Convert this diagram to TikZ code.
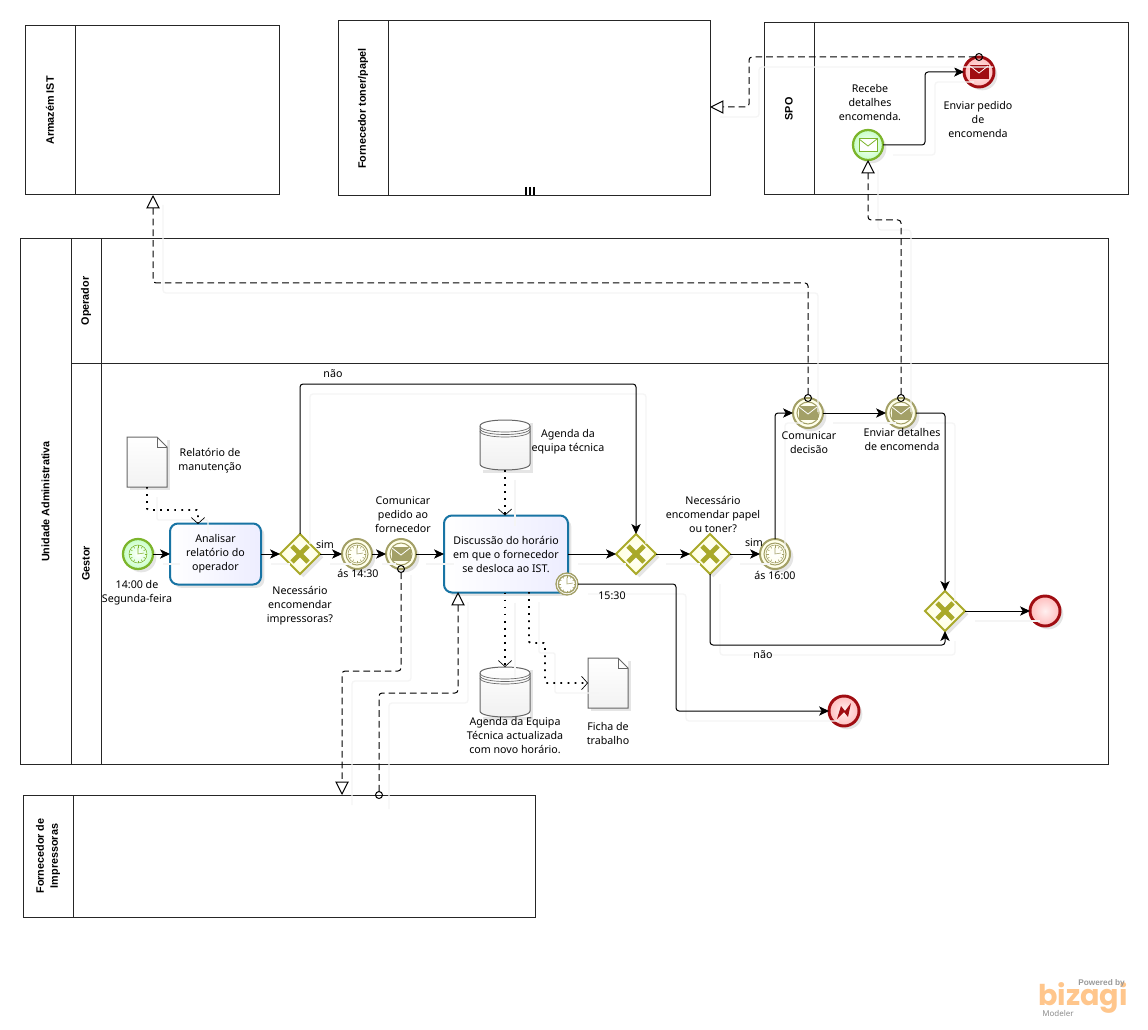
\documentclass[tikz,border=0pt]{standalone}
\usepackage{fontspec}
\setmainfont{Noto Sans}
\newfontfamily\logofont{Poppins}
\newfontfamily\titlefont{Liberation Sans}
\usepackage{xcolor}
\usepackage{tikz}
\usetikzlibrary{shapes.geometric, arrows.meta, positioning, shadows}

\definecolor{gwolive}{HTML}{A9A92A}
\definecolor{evolive}{HTML}{A3A067}
\definecolor{evgreen}{HTML}{7CB52B}
\definecolor{evred}{HTML}{A00D12}
\definecolor{taskblue}{HTML}{1874A4}

% icons, drawn inside a node by path picture
\newcommand{\clockicon}[2]{
    \begin{scope}[shift={(path picture bounding box.center)}, scale=#2, draw=#1, line width=.4pt]
        \draw (0,0) circle (9);
        \foreach \a in {0,30,...,330} \draw (\a:6.5) -- (\a:9);
        \draw (0,-6.5) -- (0,0) -- (6,-1);
    \end{scope}
}
\newcommand{\envicon}[3]{
    \begin{scope}[shift={(path picture bounding box.center)}, line width=.6pt]
        \draw[fill=#1, draw=#2] (-9,-6.5) rectangle (9,6.5);
        \draw[draw=#3] (-9,-6) -- (0,1) -- (9,-6);
    \end{scope}
}
\newcommand{\ringicon}[1]{
    \draw[evolive, line width=.8pt] (path picture bounding box.center) circle (#1);
}

\begin{document}
\begin{tikzpicture}[
        x=.75pt, y=-.75pt,
        font=\fontsize{8}{10.5}\selectfont,
        softshadow/.style={drop shadow={opacity=.2, shadow xshift=2.5pt, shadow yshift=-2.5pt}},
        poolbox/.style={draw=black!85, rectangle, fill=white, line width=.75pt, anchor=north west, inner sep=0pt, outer sep=0pt},
        pooltitle/.style={rotate=90, align=center, font=\fontsize{8.1}{10.5}\titlefont\bfseries},
        lbl/.style={align=center, inner sep=0pt},
        taskbox/.style={draw=taskblue, rectangle, rounded corners=6pt, line width=1.5pt, left color=white, right color=blue!7, softshadow, align=center, inner sep=0pt, outer sep=0pt},
        gateway/.style={draw=gwolive, diamond, aspect=1, minimum size=30pt, inner sep=0pt, outer sep=0pt, line width=1.5pt, inner color=white, outer color=yellow!14, softshadow,
            path picture={\draw[gwolive, line width=3.6pt] ([shift={(-8,-8)}]path picture bounding box.center) -- ++(16,16) ([shift={(-8,8)}]path picture bounding box.center) -- ++(16,-16);}},
        eventbase/.style={circle, minimum size=22.5pt, inner sep=0pt, outer sep=0pt, softshadow},
        startclock/.style={eventbase, draw=evgreen, line width=1.7pt, inner color=white, outer color=green!22, path picture={\clockicon{evgreen}{1}}},
        startmsg/.style={eventbase, draw=evgreen, line width=1.7pt, inner color=white, outer color=green!22, path picture={\envicon{white}{evgreen}{evgreen}}},
        timerev/.style={eventbase, draw=evolive, line width=1.5pt, inner color=white, outer color=yellow!10, path picture={\ringicon{11}\clockicon{evolive}{1}}},
        msgev/.style={eventbase, draw=evolive, line width=1.5pt, inner color=white, outer color=yellow!10, path picture={\ringicon{11}\envicon{evolive}{evolive}{white}}},
        boundaryev/.style={circle, minimum size=16.5pt, inner sep=0pt, outer sep=0pt, draw=evolive, line width=1pt, fill=white, path picture={\ringicon{8.5}\clockicon{evolive}{.68}}},
        endev/.style={eventbase, draw=evred, line width=2.2pt, inner color=red!6, outer color=red!26},
        endmsg/.style={endev, path picture={\envicon{evred}{evred}{white}}},
        enderror/.style={endev, path picture={\fill[evred, shift={(path picture bounding box.center)}] (-7,8) -- (-3,-5) -- (1,0) -- (7,-8) -- (4,6) -- (0,1) -- cycle;}},
        datastore/.style={rectangle, minimum width=37.5pt, minimum height=37.5pt, inner sep=0pt, outer sep=0pt, fill=white, softshadow},
        docnode/.style={rectangle, minimum width=30pt, minimum height=37.5pt, inner sep=0pt, outer sep=0pt, fill=white, softshadow},
        ghost/.style={preaction={draw=black!4, line width=1pt, solid, arrows=-, transform canvas={shift={(7.5pt,-7.5pt)}}}},
        flow/.style={-{Stealth[length=7.5pt,width=7pt,inset=2pt]}, line width=.75pt, rounded corners=2.25pt, ghost},
        msgflow/.style={{Circle[open,length=6pt,width=6pt]}-{Triangle[open,length=10pt,width=10pt]}, shorten <=-3pt, dash pattern=on 5pt off 3pt, line width=.75pt, rounded corners=2.25pt, ghost},
        assoc/.style={-{Straight Barb[length=4.5pt,width=10pt,line width=.5pt]}, dash pattern=on 1.3pt off 4pt, line width=1.3pt, rounded corners=1pt, ghost}
    ]
    \path[use as bounding box] (0,0) rectangle (1148,1030);

    % Armazem pool
    \node[poolbox, minimum width=190.5pt, minimum height=126.75pt] (armazem) at (25,26) {};
    \node[poolbox, minimum width=37.5pt, minimum height=126.75pt] (armazemHead) at (armazem.north west) {};
    \node[pooltitle] (armazemTitle) at (armazemHead) {Armazém IST};

    % Toner pool
    \node[poolbox, minimum width=279pt, minimum height=131.25pt] (toner) at (338,21) {};
    \node[poolbox, minimum width=37.5pt, minimum height=131.25pt] (tonerHead) at (toner.north west) {};
    \node[pooltitle] (tonerTitle) at (tonerHead) {Fornecedor toner/papel};
    \foreach \bx in {526,530,534} \draw[line width=1.1pt] (\bx,187) -- (\bx,195);

    % SPO pool
    \node[poolbox, minimum width=273pt, minimum height=129pt] (spo) at (764,23) {};
    \node[poolbox, minimum width=37.5pt, minimum height=129pt] (spoHead) at (spo.north west) {};
    \node[pooltitle] (spoTitle) at (spoHead) {SPO};

    % Unidade pool with its lanes
    \node[poolbox, minimum width=816pt, minimum height=393.75pt] (unidade) at (20,239) {};
    \node[poolbox, minimum width=38.25pt, minimum height=393.75pt] (unidadeHead) at (unidade.north west) {};
    \node[pooltitle] (unidadeTitle) at (unidadeHead) {Unidade Administrativa};
    \node[poolbox, minimum width=777.75pt, minimum height=93pt] (laneOperador) at (71,239) {};
    \node[poolbox, minimum width=22.5pt, minimum height=93pt] (operadorHead) at (laneOperador.north west) {};
    \node[pooltitle] (operadorTitle) at (operadorHead) {Operador};
    \node[poolbox, minimum width=777.75pt, minimum height=300.75pt] (laneGestor) at (71,363) {};
    \node[poolbox, minimum width=22.5pt, minimum height=300.75pt] (gestorHead) at (laneGestor.north west) {};
    \node[pooltitle] (gestorTitle) at (gestorHead) {Gestor};

    % Impressoras pool
    \node[poolbox, minimum width=384pt, minimum height=91.5pt] (impressoras) at (23,795) {};
    \node[poolbox, minimum width=37.5pt, minimum height=91.5pt] (impressorasHead) at (impressoras.north west) {};
    \node[pooltitle] (impressorasTitle) at (impressorasHead) {Fornecedor de\\Impressoras};

    % Main row
    \node[startclock] (startInicio) at (138,554) {};
    \node[taskbox, minimum width=68.25pt, minimum height=45.75pt, right=12.75pt of startInicio] (taskAnalisar) {Analisar\\relatório do\\operador};
    \node[gateway, right=14.25pt of taskAnalisar] (gwImpressoras) {};
    \node[timerev, right=16.5pt of gwImpressoras] (tmrPrimeiro) {};
    \node[msgev, right=10.5pt of tmrPrimeiro] (msgPedido) {};
    \node[taskbox, minimum width=93pt, minimum height=57.75pt, right=21pt of msgPedido] (taskDiscussao) {Discussão do horário\\em que o fornecedor\\se desloca ao IST.};
    \node[boundaryev] (tmrLimite) at (567,584) {};
    \node[gateway, right=36pt of taskDiscussao] (gwJuntar) {};
    \node[gateway, right=25.5pt of gwJuntar] (gwPapel) {};
    \node[timerev, right=22.5pt of gwPapel] (tmrSegundo) {};

    % Upper row and end
    \node[msgev] (msgDecisao) at (808,413) {};
    \node[msgev, right=47.25pt of msgDecisao] (msgDetalhes) {};
    \node[gateway] (gwFim) at (945,611) {};
    \node[endev, right=48.75pt of gwFim] (endFim) {};
    \node[enderror] (endErro) at (844,711) {};

    % SPO events
    \node[startmsg] (msgRecebe) at (868,145) {};
    \node[endmsg] (endPedido) at (979,72) {};

    % Data stores
    \node[datastore] (dsEquipa) at (505,445) {};
    \node[datastore] (dsNovo) at (505,692) {};
    \foreach \ds in {dsEquipa,dsNovo} {
        \begin{scope}[shift={(\ds.center)}]
            \draw[black!60, line width=.75pt, top color=white, bottom color=black!6]
                (-25,-19) .. controls (-25,-27) and (25,-27) .. (25,-19)
                -- (25,19) .. controls (25,27) and (-25,27) .. (-25,19) -- cycle;
            \foreach \dy in {-19,-16.5,-14}
                \draw[black!60, line width=.5pt] (-25,\dy) .. controls (-25,\dy+8) and (25,\dy+8) .. (25,\dy);
        \end{scope}
    }

    % Documents
    \node[docnode] (docRelatorio) at (147,462) {};
    \node[docnode] (docFicha) at (608,683) {};
    \foreach \doc in {docRelatorio,docFicha} {
        \fill[white] ([xshift=-7.5pt]\doc.north east) -- (\doc.north east) -- ([yshift=-7.5pt]\doc.north east) -- cycle;
        \draw[black!60, line width=.75pt, top color=white, bottom color=black!5]
            (\doc.north west) -- ([xshift=-7.5pt]\doc.north east) -- ([yshift=-7.5pt]\doc.north east) -- (\doc.south east) -- (\doc.south west) -- cycle;
        \draw[black!60, line width=.5pt] ([xshift=-7.5pt]\doc.north east) |- ([yshift=-7.5pt]\doc.north east);
    }

    % Free ends and bends
    \coordinate (armIn) at (153,195);
    \coordinate (tonerIn) at (710,107);
    \coordinate (impIn) at (342,795);
    \coordinate (impOut) at (379,795);
    \coordinate (taskIn) at (458,592);
    \coordinate (assocIn) at (198,524);
    \coordinate (assocOut) at (529,592);
    \coordinate (topNao) at (470,384);
    \coordinate (baixoNao) at (830,645);
    \coordinate (bendErro) at (676,650);
    \coordinate (bendSpo) at (925,110);
    \coordinate (bendPedido) at (370,671);
    \coordinate (bendResposta) at (420,693);
    \coordinate (bendToner) at (749,80);
    \coordinate (bendDetalhes) at (885,220);
    \coordinate (bendDecisao) at (400,283);
    \coordinate (bendDoc) at (172,510);
    \coordinate (bendFichaA) at (537,643);
    \coordinate (bendFichaB) at (545,670);

    % Sequence flows
    \draw[flow] (startInicio) -- (taskAnalisar);
    \draw[flow] (taskAnalisar) -- (gwImpressoras);
    \draw[flow] (gwImpressoras) -- (tmrPrimeiro);
    \draw[flow] (tmrPrimeiro) -- (msgPedido);
    \draw[flow] (msgPedido) -- (taskDiscussao);
    \draw[flow] (taskDiscussao) -- (gwJuntar);
    \draw[flow] (gwJuntar) -- (gwPapel);
    \draw[flow] (gwPapel) -- (tmrSegundo);
    \draw[flow] (gwImpressoras.north) |- (topNao) -| (gwJuntar.north);
    \draw[flow] (tmrLimite.east) -| (bendErro) |- (endErro.west);
    \draw[flow] (gwPapel.south) |- (baixoNao) -| (gwFim.south);
    \draw[flow] (tmrSegundo.north) |- (msgDecisao.west);
    \draw[flow] (msgDecisao) -- (msgDetalhes);
    \draw[flow] (msgDetalhes.east) -| (gwFim.north);
    \draw[flow] (gwFim) -- (endFim);
    \draw[flow] (msgRecebe.east) -| (bendSpo) |- (endPedido.west);

    % Message flows
    \draw[msgflow] (msgDecisao.north) |- (bendDecisao) -| (armIn);
    \draw[msgflow] (msgDetalhes.north) |- (bendDetalhes) -| (msgRecebe.south);
    \draw[msgflow] (endPedido.north) -| (bendToner) |- (tonerIn);
    \draw[msgflow] (msgPedido.south) |- (bendPedido) -| (impIn);
    \draw[msgflow] (impOut) |- (bendResposta) -| (taskIn);

    % Data associations
    \draw[assoc] (docRelatorio.south) |- (bendDoc) -| (assocIn);
    \draw[assoc] (dsEquipa.south) -- (dsEquipa.south |- taskDiscussao.north);
    \draw[assoc] (dsNovo.north |- taskDiscussao.south) -- (dsNovo.north);
    \draw[assoc] (assocOut) |- (bendFichaA) -| (bendFichaB) |- (docFicha.west);

    % Labels
    \node[lbl] (lblInicio) at (137,593) {14:00 de\\Segunda-feira};
    \node[lbl] (lblRelatorio) at (210,461) {Relatório de\\manutenção};
    \node[lbl] (lblImpressoras) at (300,606) {Necessário\\encomendar\\impressoras?};
    \node[lbl] (lblSimA) at (325,545) {sim};
    \node[lbl] (lblNaoA) at (333,374) {não};
    \node[lbl] (lblPrimeiro) at (358,573) {ás 14:30};
    \node[lbl] (lblPedido) at (403,515) {Comunicar\\pedido ao\\fornecedor};
    \node[lbl] (lblEquipa) at (568,442) {Agenda da\\equipa técnica};
    \node[lbl] (lblNovo) at (515,736) {Agenda da Equipa\\Técnica actualizada\\com novo horário.};
    \node[lbl] (lblFicha) at (608,733) {Ficha de\\trabalho};
    \node[lbl] (lblLimite) at (612,596) {15:30};
    \node[lbl] (lblPapel) at (713,514) {Necessário\\encomendar papel\\ou toner?};
    \node[lbl] (lblSimB) at (754,543) {sim};
    \node[lbl] (lblSegundo) at (775,575) {ás 16:00};
    \node[lbl] (lblNaoB) at (763,655) {não};
    \node[lbl] (lblDecisao) at (809,443) {Comunicar\\decisão};
    \node[lbl] (lblDetalhes) at (902,439) {Enviar detalhes\\de encomenda};
    \node[lbl] (lblRecebe) at (870,103) {Recebe\\detalhes\\encomenda.};
    \node[lbl] (lblEnviar) at (978,120) {Enviar pedido\\de\\encomenda};

    % Logo
    \node[lbl, font=\fontsize{21.5}{22}\logofont\bfseries, text=orange!45] (logoBizagi) at (1083,998) {bizagi};
    \node[lbl, font=\fontsize{6.2}{7}\titlefont\bfseries, text=black!40, anchor=south east] (logoPowered) at (1125,987) {Powered by};
    \node[lbl, font=\fontsize{6}{7}\selectfont, text=black!45, anchor=north west] (logoModeler) at (1042,1010) {Modeler};
\end{tikzpicture}
\end{document}
